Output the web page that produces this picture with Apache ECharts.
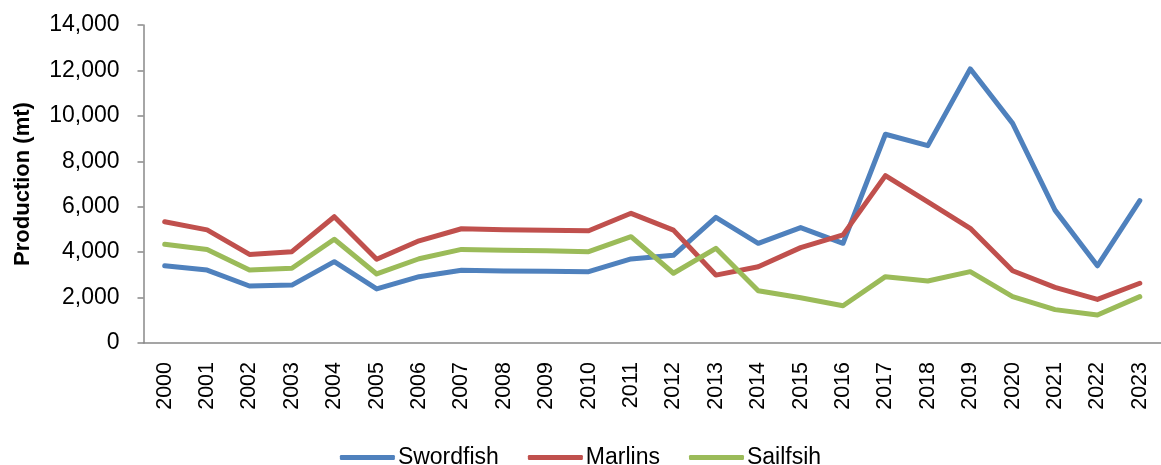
<!DOCTYPE html>
<html>
<head>
<meta charset="utf-8">
<script src="https://cdn.jsdelivr.net/npm/echarts@6/dist/echarts.min.js"></script>
<style>
html,body{margin:0;padding:0;background:#fff;}
#chart{width:1161px;height:465px;}
</style>
</head>
<body>
<div id="chart"></div>
<script>
const years = ['2000','2001','2002','2003','2004','2005','2006','2007','2008','2009','2010','2011','2012','2013','2014','2015','2016','2017','2018','2019','2020','2021','2022','2023'];
const swordfish = [3400,3210,2510,2550,3580,2380,2920,3200,3170,3160,3140,3700,3860,5530,4390,5080,4390,9190,8690,12070,9670,5850,3400,6270];
const marlins = [5340,4980,3900,4020,5560,3690,4500,5030,4990,4960,4940,5710,4970,2990,3360,4200,4760,7370,6210,5050,3180,2450,1920,2630];
const sailfish = [4350,4120,3210,3290,4570,3040,3710,4120,4080,4060,4020,4680,3070,4170,2300,1990,1640,2920,2730,3140,2040,1470,1230,2040];
const seriesNames = ['Swordfish','Marlins','Sailfsih'];
const yTickLabels = {min:0, max:14000, interval:2000};

const chart = echarts.init(document.getElementById('chart'), null, {renderer:'canvas'});
const colors = ['#4F81BD','#C0504D','#9BBB59'];
const font = "'Liberation Sans', Arial, sans-serif";
const mk = (name, data, c) => ({
  name, type:'line', data, symbol:'none', smooth:false,
  lineStyle:{color:c, width:5, cap:'round', join:'round'},
  itemStyle:{color:c}
});
chart.setOption({
  animation:false,
  textStyle:{fontFamily:font},
  grid:{left:143.5, top:25, width:1027, height:318, containLabel:false},
  legend:{
    data:seriesNames, left:'center', top:441, icon:'roundRect',
    itemWidth:55, itemHeight:5, itemGap:29,
    textStyle:{fontFamily:font, fontSize:23, color:'#000', padding:[0,0,0,-2]}
  },
  xAxis:{
    type:'category', data:years, boundaryGap:true,
    axisLine:{lineStyle:{color:'#888', width:1.5}},
    axisTick:{show:false},
    axisLabel:{rotate:90, margin:19, fontSize:21.5, color:'#000', fontFamily:font, interval:0}
  },
  yAxis:{
    type:'value', min:yTickLabels.min, max:yTickLabels.max, interval:yTickLabels.interval,
    name:'Production (mt)', nameLocation:'middle', nameGap:110, nameRotate:90,
    nameTextStyle:{fontSize:22, fontWeight:'bold', color:'#000', fontFamily:font},
    axisLine:{show:true, lineStyle:{color:'#888', width:1.5}},
    axisTick:{show:true, length:6, lineStyle:{color:'#888', width:1.5}},
    splitLine:{show:false},
    axisLabel:{margin:24, fontSize:23, color:'#000', fontFamily:font,
      formatter:v=>v.toLocaleString('en-US')}
  },
  series:[mk(seriesNames[0],swordfish,colors[0]), mk(seriesNames[1],marlins,colors[1]), mk(seriesNames[2],sailfish,colors[2])]
});
</script>
</body>
</html>
